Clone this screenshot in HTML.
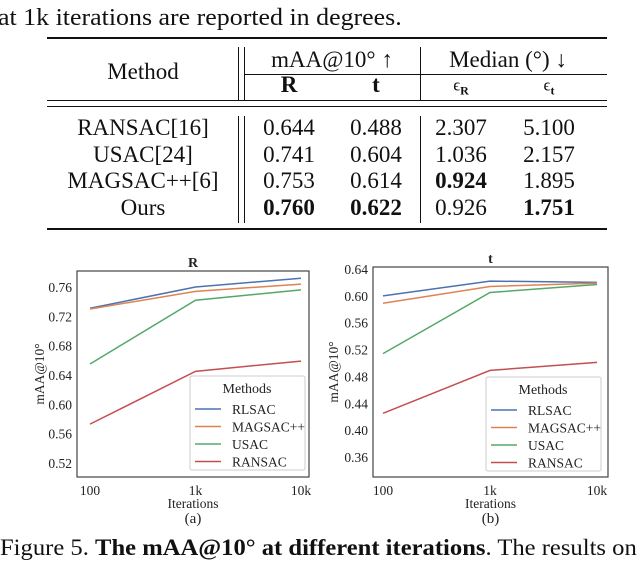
<!DOCTYPE html>
<html><head><meta charset="utf-8"><style>
body{margin:0;width:640px;height:557px;background:#fff;overflow:hidden;position:relative;font-family:"Liberation Serif",serif;color:#111}
.t{position:absolute;white-space:nowrap;transform:translate(-50%,-50%);font-size:23px}
.r{position:absolute;background:#111}
b{font-weight:bold}
</style></head><body>
<div style="position:absolute;left:-2px;top:5px;font-size:24px;white-space:nowrap;transform:scaleX(1.08);transform-origin:0 0">at 1k iterations are reported in degrees.</div>
<div>
<div class="r" style="left:47px;top:37px;width:560px;height:2px"></div>
<div class="r" style="left:244px;top:74px;width:363px;height:1px"></div>
<div class="r" style="left:47px;top:100px;width:560px;height:1px"></div>
<div class="r" style="left:47px;top:106px;width:560px;height:1px"></div>
<div class="r" style="left:47px;top:228px;width:560px;height:2px"></div>
<div class="r" style="left:238px;top:47px;width:1px;height:53px"></div>
<div class="r" style="left:244px;top:47px;width:1px;height:53px"></div>
<div class="r" style="left:420px;top:47px;width:1px;height:53px"></div>
<div class="r" style="left:238px;top:116px;width:1px;height:107px"></div>
<div class="r" style="left:244px;top:116px;width:1px;height:107px"></div>
<div class="r" style="left:420px;top:116px;width:1px;height:107px"></div>
<div class="t" style="left:143px;top:72px">Method</div>
<div class="t" style="left:332px;top:60px">mAA@10° ↑</div>
<div class="t" style="left:508px;top:60px">Median (°) ↓</div>
<div class="t" style="left:289px;top:85px"><b>R</b></div>
<div class="t" style="left:376px;top:85px"><b>t</b></div>
<div class="t" style="left:461px;top:87px;font-size:17px">ϵ<sub style="font-size:12px"><b>R</b></sub></div>
<div class="t" style="left:549px;top:87px;font-size:17px">ϵ<sub style="font-size:12px"><b>t</b></sub></div>
<div class="t" style="left:143px;top:128px">RANSAC[16]</div><div class="t" style="left:289px;top:128px">0.644</div><div class="t" style="left:376px;top:128px">0.488</div><div class="t" style="left:461px;top:128px">2.307</div><div class="t" style="left:549px;top:128px">5.100</div>
<div class="t" style="left:143px;top:155px">USAC[24]</div><div class="t" style="left:289px;top:155px">0.741</div><div class="t" style="left:376px;top:155px">0.604</div><div class="t" style="left:461px;top:155px">1.036</div><div class="t" style="left:549px;top:155px">2.157</div>
<div class="t" style="left:143px;top:181px">MAGSAC++[6]</div><div class="t" style="left:289px;top:181px">0.753</div><div class="t" style="left:376px;top:181px">0.614</div><div class="t" style="left:461px;top:181px"><b>0.924</b></div><div class="t" style="left:549px;top:181px">1.895</div>
<div class="t" style="left:143px;top:208px">Ours</div><div class="t" style="left:289px;top:208px"><b>0.760</b></div><div class="t" style="left:376px;top:208px"><b>0.622</b></div><div class="t" style="left:461px;top:208px">0.926</div><div class="t" style="left:549px;top:208px"><b>1.751</b></div>
</div>
<svg id="svg" width="640" height="557" style="position:absolute;left:0;top:0" font-family="Liberation Serif, serif" fill="#222"></svg>
<div style="position:absolute;left:0;top:535px;font-size:23px;white-space:nowrap;transform:scaleX(1.07);transform-origin:0 0">Figure 5. <b>The mAA@10° at different iterations</b>. The results on</div>
<script>
const categories=["100","1k","10k"];
const seriesNames=["RLSAC","MAGSAC++","USAC","RANSAC"];
const colors=["#4c72b0","#dd8452","#55a868","#c44e52"];
const rValues=[[0.731,0.760,0.772],[0.730,0.754,0.764],[0.655,0.742,0.756],[0.573,0.645,0.659]];
const tValues=[[0.600,0.622,0.620],[0.589,0.614,0.619],[0.514,0.605,0.617],[0.425,0.489,0.501]];
const rTicks=[0.52,0.56,0.60,0.64,0.68,0.72,0.76];
const tTicks=[0.36,0.40,0.44,0.48,0.52,0.56,0.60,0.64];
const svg=document.getElementById('svg');const NS="http://www.w3.org/2000/svg";
const FS=13.5;
function el(tag,attrs,parent){const e=document.createElementNS(NS,tag);for(const k in attrs)e.setAttribute(k,attrs[k]);(parent||svg).appendChild(e);return e;}
function chart(cfg){
 const g=el('g',{});
 
 
 const x=i=>cfg.x0+(cfg.x2-cfg.x0)*i/(categories.length-1);
 const y=v=>cfg.yA+(v-cfg.vA)*(cfg.yB-cfg.yA)/(cfg.vB-cfg.vA);
 const fr=el('rect',{x:cfg.L,y:cfg.T,width:cfg.R-cfg.L,height:cfg.B-cfg.T,fill:'none',stroke:'#444','stroke-width':1.2},g);
 
 
 cfg.ticks.forEach(v=>{const t=el('text',{x:cfg.L-5,y:y(v)+5,'text-anchor':'end','font-size':FS},g);t.textContent=v.toFixed(2);
 
 });
 categories.forEach((c,i)=>{const t=el('text',{x:x(i),y:cfg.B+18,'text-anchor':'middle','font-size':FS},g);t.textContent=c;
 
 });
 const xt=el('text',{x:(cfg.L+cfg.R)/2,y:cfg.B+31,'text-anchor':'middle','font-size':FS},g);xt.textContent='Iterations';
 
 
 const yt=el('text',{x:cfg.yl,y:(cfg.T+cfg.B)/2,'text-anchor':'middle','font-size':FS,transform:`rotate(-90 ${cfg.yl} ${(cfg.T+cfg.B)/2})`},g);yt.textContent='mAA@10°';
 
 
 const ti=el('text',{x:(cfg.L+cfg.R)/2,y:cfg.T-4,'text-anchor':'middle','font-size':14,'font-weight':'bold'},g);ti.textContent=cfg.title;
 
 
 const sub=el('text',{x:(cfg.L+cfg.R)/2,y:cfg.B+46,'text-anchor':'middle','font-size':15},g);sub.textContent=cfg.sub;
 
 
 cfg.vals.forEach((s,k)=>{const p=el('polyline',{points:s.map((v,i)=>x(i)+','+y(v)).join(' '),fill:'none',stroke:colors[k],'stroke-width':1.5},g);
 
 });
 const lg=el('g',{},g);
 
 
 el('rect',{x:cfg.lx,y:cfg.ly,width:115,height:94,fill:'#fff','fill-opacity':0.85,stroke:'#ccc',rx:2},lg);
 const lt=el('text',{x:cfg.lx+57,y:cfg.ly+17,'text-anchor':'middle','font-size':14},lg);lt.textContent='Methods';
 seriesNames.forEach((n,k)=>{const yy=cfg.ly+33+k*17.5;
  const e=el('g',{},lg);
  
  
  el('line',{x1:cfg.lx+5,x2:cfg.lx+31,y1:yy,y2:yy,stroke:colors[k],'stroke-width':1.5},e);
  const tx=el('text',{x:cfg.lx+42,y:yy+5,'font-size':FS},e);tx.textContent=n;});
}
chart({name:'chart-r',title:'R',sub:'(a)',L:77,R:309,T:271,B:477,x0:90,x2:301,yA:287,vA:0.76,yB:463,vB:0.52,ticks:rTicks,vals:rValues,yl:44,lx:190,ly:376});
chart({name:'chart-t',title:'t',sub:'(b)',L:373,R:608,T:267,B:477,x0:383,x2:597,yA:269,vA:0.64,yB:457,vB:0.36,ticks:tTicks,vals:tValues,yl:338,lx:486,ly:377});
</script>
</body></html>
